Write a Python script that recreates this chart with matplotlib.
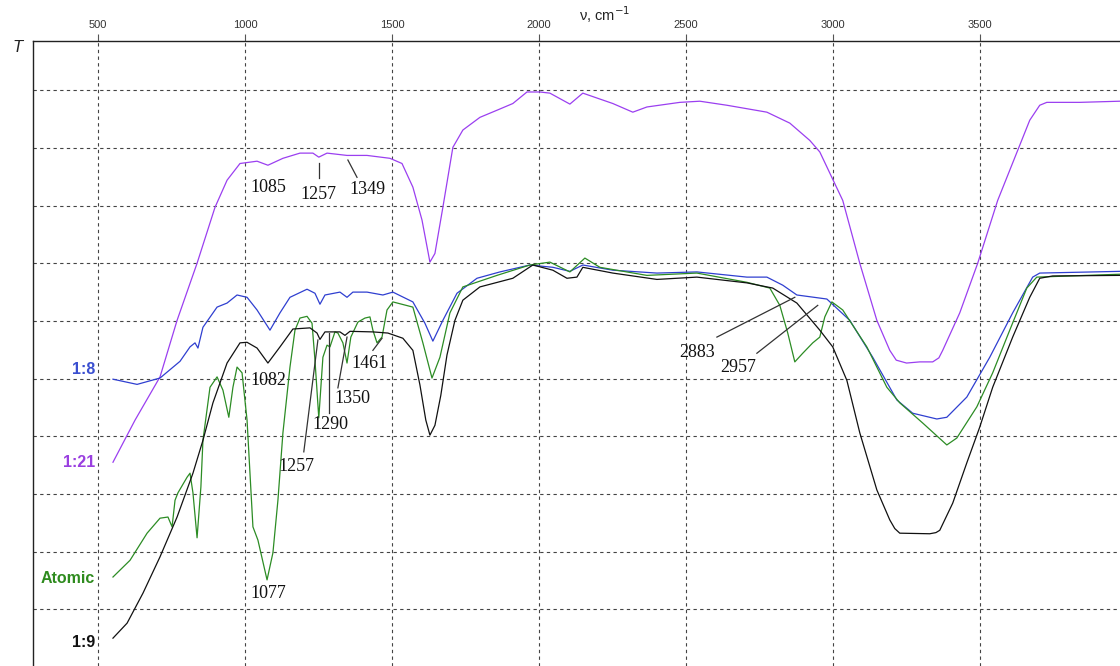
import matplotlib.pyplot as plt
import numpy as np

# IR spectra, wavenumber (cm-1) vs relative transmittance (offset, arbitrary units)
nu_121 = [551, 626, 711, 769, 837, 898, 939, 983, 1041, 1078, 1129, 1187, 1231, 1251, 1279,
          1347, 1415, 1493, 1534, 1571, 1602, 1629, 1646, 1673, 1707, 1741, 1799, 1860, 1911,
          1959, 2003, 2037, 2105, 2149, 2251, 2319, 2367, 2479, 2547, 2639, 2775, 2853, 2921,
          2955, 3033, 3091, 3149, 3193, 3215, 3250, 3295, 3339, 3360, 3373, 3431, 3492, 3560,
          3669, 3703, 3727, 3839, 3975]
t_121 = [3.55, 4.28, 5.03, 6.01, 7.00, 7.97, 8.44, 8.73, 8.77, 8.70, 8.82, 8.91, 8.91, 8.84, 8.91,
         8.87, 8.87, 8.82, 8.73, 8.32, 7.75, 7.02, 7.17, 7.97, 9.01, 9.31, 9.53, 9.66, 9.77,
         9.97, 9.97, 9.95, 9.76, 9.95, 9.77, 9.62, 9.71, 9.79, 9.81, 9.74, 9.62, 9.43, 9.13,
         8.93, 8.09, 7.00, 6.01, 5.49, 5.32, 5.27, 5.29, 5.29, 5.36, 5.49, 6.14, 7.00, 8.09,
         9.48, 9.74, 9.79, 9.79, 9.81]

nu_18 = [551, 633, 711, 779, 813, 830, 840, 857, 905, 939, 973, 1007, 1041, 1085, 1119, 1153,
         1211, 1238, 1255, 1272, 1323, 1347, 1367, 1415, 1469, 1503, 1571, 1612, 1639, 1673,
         1721, 1789, 1867, 1969, 2047, 2105, 2149, 2251, 2401, 2537, 2707, 2775, 2829, 2877,
         2979, 3057, 3135, 3217, 3271, 3353, 3387, 3455, 3533, 3611, 3679, 3703, 3975]
t_18 = [4.99, 4.90, 5.01, 5.30, 5.55, 5.62, 5.53, 5.89, 6.24, 6.31, 6.45, 6.41, 6.19, 5.84, 6.14,
        6.41, 6.55, 6.48, 6.29, 6.45, 6.50, 6.41, 6.50, 6.50, 6.45, 6.50, 6.33, 5.96, 5.65, 6.01,
        6.48, 6.74, 6.85, 6.97, 6.93, 6.86, 6.97, 6.88, 6.83, 6.85, 6.76, 6.76, 6.62, 6.45,
        6.38, 6.01, 5.37, 4.63, 4.40, 4.30, 4.33, 4.68, 5.37, 6.14, 6.76, 6.83, 6.86]

nu_atomic = [551, 609, 667, 711, 738, 752, 762, 772, 803, 813, 823, 837, 850, 857, 881, 905, 925,
             945, 959, 973, 990, 1007, 1027, 1044, 1075, 1095, 1112, 1129, 1153, 1170, 1187,
             1211, 1228, 1238, 1251, 1265, 1279, 1289, 1306, 1316, 1333, 1347, 1360, 1384, 1408,
             1425, 1435, 1449, 1466, 1483, 1503, 1571, 1605, 1636, 1663, 1697, 1741, 1857, 1969,
             2037, 2105, 2156, 2207, 2367, 2537, 2707, 2785, 2819, 2846, 2870, 2897, 2931, 2955,
             2972, 2996, 3033, 3115, 3183, 3227, 3305, 3387, 3421, 3489, 3543, 3601, 3659, 3693,
             3975]
t_atomic = [1.56, 1.85, 2.32, 2.58, 2.60, 2.43, 2.89, 3.02, 3.29, 3.36, 3.02, 2.24, 3.12, 3.93,
            4.85, 5.03, 4.80, 4.33, 4.85, 5.20, 5.10, 4.28, 2.43, 2.20, 1.51, 1.98, 2.89, 4.06,
            5.20, 5.84, 6.05, 6.08, 5.96, 5.32, 4.32, 5.37, 5.58, 5.55, 5.81, 5.79, 5.62, 5.27,
            5.72, 5.98, 6.05, 6.07, 5.84, 5.62, 5.72, 6.19, 6.33, 6.24, 5.62, 5.01, 5.37, 6.14,
            6.59, 6.79, 6.97, 7.02, 6.85, 7.09, 6.93, 6.79, 6.83, 6.67, 6.57, 6.27, 5.79, 5.29,
            5.44, 5.62, 5.72, 6.07, 6.33, 6.19, 5.55, 4.85, 4.58, 4.23, 3.85, 3.97, 4.51, 5.10,
            5.84, 6.57, 6.76, 6.81]

nu_19 = [551, 599, 653, 711, 769, 823, 857, 891, 939, 983, 1007, 1041, 1078, 1119, 1163, 1221,
         1245, 1255, 1272, 1323, 1340, 1357, 1435, 1486, 1537, 1571, 1595, 1615, 1629, 1646,
         1666, 1687, 1714, 1741, 1799, 1911, 1979, 2047, 2095, 2129, 2149, 2251, 2401, 2537,
         2707, 2795, 2877, 2955, 2999, 3047, 3091, 3149, 3193, 3210, 3227, 3329, 3350, 3363,
         3407, 3455, 3499, 3543, 3611, 3669, 3703, 3747, 3975]
t_19 = [0.50, 0.76, 1.28, 1.91, 2.60, 3.36, 3.93, 4.58, 5.27, 5.62, 5.63, 5.53, 5.27, 5.55, 5.86,
        5.88, 5.79, 5.68, 5.81, 5.81, 5.75, 5.82, 5.81, 5.79, 5.70, 5.49, 4.89, 4.28, 4.02, 4.19,
        4.71, 5.41, 6.01, 6.36, 6.59, 6.74, 6.97, 6.88, 6.74, 6.76, 6.93, 6.83, 6.72, 6.76,
        6.66, 6.57, 6.31, 5.84, 5.55, 4.97, 4.06, 3.07, 2.55, 2.40, 2.32, 2.31, 2.33, 2.37,
        2.84, 3.54, 4.16, 4.85, 5.72, 6.41, 6.74, 6.78, 6.79]

# peak labels: text, text position, leader line (or None)
peak_text = ['1085', '1257', '1349', '1082', '1077', '1461', '1350', '1290', '1257', '2883', '2957']
peak_pos = [(1078, 8.32), (1248, 8.20), (1418, 8.28), (1078, 4.97), (1078, 1.27), (1425, 5.27),
            (1364, 4.66), (1289, 4.21), (1174, 3.48), (2537, 5.46), (2676, 5.20)]
peak_line = [None, ((1251, 8.73), (1251, 8.47)), ((1350, 8.79), (1381, 8.49)), None, None,
             ((1435, 5.49), (1466, 5.70)), ((1316, 4.84), (1347, 5.72)),
             ((1285, 4.40), (1285, 5.79)), ((1200, 3.73), (1248, 5.67)),
             ((2605, 5.72), (2870, 6.41)), ((2741, 5.44), (2948, 6.27))]

series_names = ['1:8', '1:21', 'Atomic', '1:9']
name_y = [5.15, 3.55, 1.54, 0.43]
colors = ['#2f3fd0', '#9b3ff0', '#2c8c24', '#111111']
label_colors = ['#3a4fd0', '#9a3fe0', '#2e8b1e', '#111111']

fig = plt.figure(figsize=(11.2, 6.66), dpi=100)
ax = fig.add_axes([33 / 1120, 0, 1 - 33 / 1120, 625 / 666])

for nu, t, c in [(nu_121, t_121, colors[1]), (nu_18, t_18, colors[0]),
                 (nu_atomic, t_atomic, colors[2]), (nu_19, t_19, colors[3])]:
    ax.plot(nu, t, color=c, lw=0.9)

ax.set_xlim(279, 3976)
ax.set_ylim(0.017, 10.854)
ax.set_xticks([500, 1000, 1500, 2000, 2500, 3000, 3500])
ax.set_yticks(range(1, 11))
ax.xaxis.tick_top()
ax.tick_params(axis='x', length=5, width=0.8, color='#555555', labelsize=8,
               labelcolor='#333333', pad=3)
for lb in ax.get_xticklabels():
    lb.set_family('Liberation Sans')
ax.tick_params(axis='y', length=0, labelleft=False)
ax.grid(True, color='#444444', linestyle=(0, (3, 3)), lw=0.8)
for s in ['right', 'bottom']:
    ax.spines[s].set_visible(False)
for s in ['top', 'left']:
    ax.spines[s].set_color('#222222')
    ax.spines[s].set_linewidth(1.0)

for txt, pos, ln in zip(peak_text, peak_pos, peak_line):
    ax.text(pos[0], pos[1], txt, ha='center', va='center', fontsize=13,
            family='Liberation Serif', color='#111111')
    if ln is not None:
        ax.plot([ln[0][0], ln[1][0]], [ln[0][1], ln[1][1]], color='#333333', lw=0.9)

for name, y, c in zip(series_names, name_y, label_colors):
    ax.text(490, y, name, ha='right', va='center', fontsize=11.5, fontweight='bold',
            family='Liberation Sans', color=c)

fig.text(605 / 1120, 1 - 15 / 666, 'ν, cm$^{-1}$', ha='center', va='center', fontsize=10.5,
         family='Liberation Sans', color='#222222')
fig.text(18 / 1120, 1 - 47 / 666, 'T', ha='center', va='center', fontsize=12, style='italic',
         family='Liberation Sans', color='#222222')

fig.savefig('out.png', dpi=100)
